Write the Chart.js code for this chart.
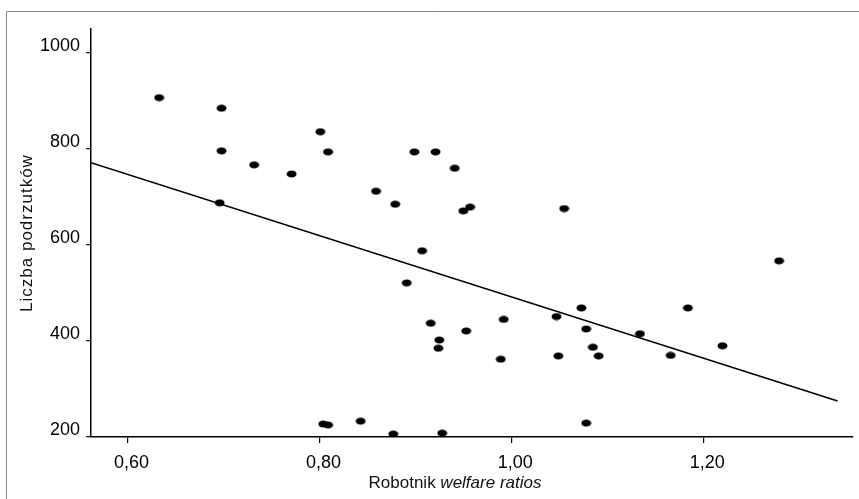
<!DOCTYPE html>
<html>
<head>
<meta charset="utf-8">
<script src="https://cdn.jsdelivr.net/npm/chart.js@4"></script>
<style>
  body { margin: 0; background: #fff; }
</style>
</head>
<body>
<canvas id="myChart" width="859" height="499"></canvas>
<script>
// welfare ratio vs. number of foundlings
const welfareRatios = [0.633, 0.698, 0.698, 0.732, 0.771, 0.696, 0.801, 0.809, 0.899, 0.921,
    0.941, 0.859, 0.879, 0.957, 0.950, 1.055, 0.907, 0.891, 0.916, 0.925,
    0.924, 0.953, 0.992, 0.989, 1.047, 1.073, 1.078, 1.085, 1.091, 1.049,
    0.804, 0.809, 0.843, 0.877, 0.928, 1.078, 1.279, 1.184, 1.134, 1.166, 1.220];
const foundlings = [907, 885, 796, 767, 748, 688, 836, 794, 794, 794,
    760, 712, 685, 679, 671, 676, 588, 521, 437, 402,
    385, 421, 445, 362, 451, 469, 425, 387, 369, 369,
    227, 225, 233, 206, 208, 229, 567, 469, 415, 370, 390];
const trendX = [0.562, 1.34];
const trendY = [771.5, 275];
const xTickValues = [0.6, 0.8, 1.0, 1.2];
const yTickValues = [200, 400, 600, 800, 1000];

// small black ellipse used as point marker
const dot = document.createElement('canvas');
dot.width = 11; dot.height = 8;
const dctx = dot.getContext('2d');
dctx.fillStyle = '#000';
dctx.beginPath();
dctx.ellipse(5.5, 4, 5, 3.5, 0, 0, Math.PI * 2);
dctx.fill();

const framePlugin = {
    id: 'frameAndTitles',
    beforeDraw(chart) {
        const c = chart.ctx;
        c.save();
        c.fillStyle = '#fff';
        c.fillRect(0, 0, chart.width, chart.height);
        c.strokeStyle = '#8a8a8a';
        c.lineWidth = 1;
        c.beginPath();
        c.moveTo(6.5, 499);
        c.lineTo(6.5, 11.5);
        c.lineTo(859, 11.5);
        c.stroke();
        c.restore();
    },
    afterDraw(chart) {
        const c = chart.ctx;
        const a = chart.chartArea;
        c.save();
        c.fillStyle = '#111';
        c.textBaseline = 'alphabetic';
        // x title: mixed normal + italic
        const f1 = '17px "Liberation Sans", Arial, sans-serif';
        const f2 = 'italic 17px "Liberation Sans", Arial, sans-serif';
        const t1 = 'Robotnik ', t2 = 'welfare ratios';
        c.font = f1; const w1 = c.measureText(t1).width;
        c.font = f2; const w2 = c.measureText(t2).width;
        let x = 455 - (w1 + w2) / 2;
        const y = a.bottom + 51;
        c.font = f1; c.fillText(t1, x, y);
        c.font = f2; c.fillText(t2, x + w1, y);
        // y title
        c.translate(32, a.top + 204);
        c.rotate(-Math.PI / 2);
        c.font = '17px "Liberation Sans", Arial, sans-serif';
        c.letterSpacing = '1px';
        c.textAlign = 'center';
        c.fillText('Liczba podrzutków', 0, 0);
        c.restore();
    }
};

const ctx = document.getElementById('myChart').getContext('2d');
const myChart = new Chart(ctx, {
    type: 'scatter',
    data: {
        datasets: [{
            label: 'Dane',
            data: welfareRatios.map((v, i) => ({ x: v, y: foundlings[i] })),
            pointStyle: dot,
            pointRadius: 5,
            pointHoverRadius: 5
        }, {
            type: 'line',
            label: 'Trend',
            data: trendX.map((v, i) => ({ x: v, y: trendY[i] })),
            borderColor: '#000',
            borderWidth: 1.6,
            pointRadius: 0,
            fill: false
        }]
    },
    options: {
        responsive: false,
        animation: false,
        layout: { padding: { top: 29, right: 2, left: 0, bottom: 0 } },
        plugins: { legend: { display: false }, tooltip: { enabled: false } },
        scales: {
            x: {
                type: 'linear',
                min: 0.562,
                max: 1.356,
                border: { color: '#000', width: 1.5 },
                grid: { drawOnChartArea: false, color: '#000', tickLength: 6, lineWidth: 1.2 },
                ticks: {
                    color: '#000',
                    font: { size: 18, family: '"Liberation Sans", Arial, sans-serif' },
                    padding: 9,
                    labelOffset: 4,
                    maxRotation: 0,
                    autoSkip: false,
                    callback: v => v.toFixed(2).replace('.', ',')
                },
                afterBuildTicks: s => { s.ticks = xTickValues.map(v => ({ value: v })); },
                afterFit: s => { s.height = 62; s.paddingLeft = 0; s.paddingRight = 0; }
            },
            y: {
                min: 200,
                max: 1050,
                border: { color: '#000', width: 1.5 },
                grid: { drawOnChartArea: false, color: '#000', tickLength: 5, lineWidth: 1.2 },
                ticks: {
                    color: '#000',
                    font: { size: 18, family: '"Liberation Sans", Arial, sans-serif' },
                    padding: 6,
                    labelOffset: -7,
                    autoSkip: false,
                    callback: v => String(v)
                },
                afterBuildTicks: s => { s.ticks = yTickValues.map(v => ({ value: v })); },
                afterFit: s => { s.width = 91; s.paddingTop = 0; s.paddingBottom = 0; }
            }
        }
    },
    plugins: [framePlugin]
});
</script>
</body>
</html>
